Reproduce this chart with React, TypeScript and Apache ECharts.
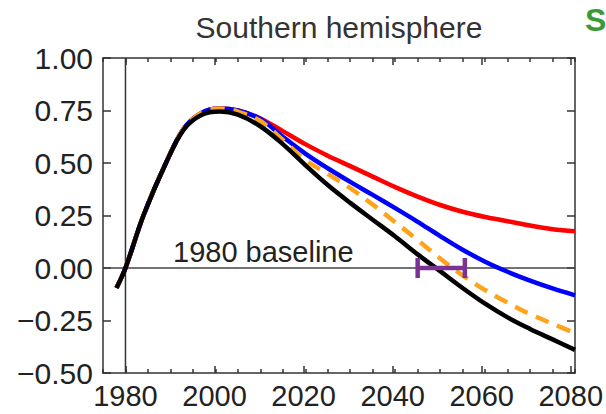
import React, { useEffect, useRef } from "react";
import * as echarts from "echarts";

// ---- data ----
const years = [1978, 1980, 1984, 1989, 1993, 1997, 2001, 2005, 2010, 2015, 2020, 2025, 2030, 2035, 2040, 2045, 2050, 2055, 2060, 2065, 2070, 2075, 2080];
const redValues = [-0.095, 0.0, 0.25, 0.5, 0.665, 0.74, 0.76, 0.75, 0.712, 0.652, 0.59, 0.535, 0.485, 0.435, 0.385, 0.34, 0.3, 0.268, 0.243, 0.223, 0.202, 0.185, 0.175];
const blueValues = [-0.095, 0.0, 0.25, 0.5, 0.665, 0.74, 0.76, 0.75, 0.71, 0.625, 0.545, 0.475, 0.41, 0.348, 0.285, 0.22, 0.152, 0.087, 0.03, -0.018, -0.06, -0.097, -0.13];
const orangeValues = [-0.095, 0.0, 0.25, 0.5, 0.665, 0.74, 0.76, 0.745, 0.7, 0.61, 0.515, 0.448, 0.38, 0.302, 0.218, 0.133, 0.045, -0.035, -0.105, -0.165, -0.22, -0.265, -0.31];
const blackValues = [-0.095, 0.0, 0.25, 0.5, 0.66, 0.73, 0.745, 0.73, 0.675, 0.59, 0.49, 0.395, 0.31, 0.23, 0.15, 0.065, -0.015, -0.095, -0.17, -0.235, -0.29, -0.34, -0.39];

const baselineYear = 1980;
const errorBar = { low: 2045, high: 2055.5, value: 0 };

const X_MIN = 1975;
const X_MAX = 2080;
const X_MINOR_STEP = 5;
const X_MAJOR_START = 1980;
const X_MAJOR_STEP = 20;
const Y_MIN = -0.5;
const Y_MAX = 1.0;
const Y_STEP = 0.25;

const FONT = "'Liberation Sans', Arial, Helvetica, sans-serif";
const AXIS_COLOR = "#333";

// layout
const GRID = { left: 103, right: 31, top: 58, bottom: 41 };
const PLOT_W = 606 - GRID.left - GRID.right;
const MAJOR_LEFT = GRID.left + ((X_MAJOR_START - X_MIN) / (X_MAX - X_MIN)) * PLOT_W;

function pairs(xs: number[], ys: number[]) {
  return xs.map((x, i) => [x, ys[i]]);
}

function minorX(position: "bottom" | "top") {
  return {
    type: "value",
    gridIndex: 0,
    position,
    min: X_MIN,
    max: X_MAX,
    interval: X_MINOR_STEP,
    axisLine: { show: true, onZero: false, lineStyle: { color: AXIS_COLOR, width: 1.5 } },
    axisTick: { show: true, inside: true, length: 4, lineStyle: { color: AXIS_COLOR, width: 1.5 } },
    axisLabel: { show: false },
    splitLine: { show: false },
  };
}

function majorX(position: "bottom" | "top", labels: boolean) {
  return {
    type: "value",
    gridIndex: 1,
    position,
    min: X_MAJOR_START,
    max: X_MAX,
    interval: X_MAJOR_STEP,
    axisLine: { show: false, onZero: false },
    axisTick: { show: true, inside: true, length: 7, lineStyle: { color: AXIS_COLOR, width: 1.5 } },
    axisLabel: labels
      ? { show: true, fontSize: 29, color: "#222", fontFamily: FONT, margin: 8, formatter: (v: number) => String(v), showMinLabel: true, showMaxLabel: true }
      : { show: false },
    splitLine: { show: false },
  };
}

export default function App() {
  const ref = useRef<HTMLDivElement>(null);

  useEffect(() => {
    if (!ref.current) return;
    const chart = echarts.init(ref.current, null, { renderer: "svg" });

    const lineSeries = (name: string, values: number[], color: string, dashed = false) => ({
      name,
      type: "line",
      xAxisIndex: 0,
      yAxisIndex: 0,
      data: pairs(years, values),
      smooth: 0.35,
      showSymbol: false,
      symbol: "none",
      lineStyle: { color, width: 4.5, type: dashed ? [14, 9] : "solid", cap: "butt" },
      z: 3,
    });

    const yCommon = {
      type: "value",
      min: Y_MIN,
      max: Y_MAX,
      interval: Y_STEP,
      axisLine: { show: true, onZero: false, lineStyle: { color: AXIS_COLOR, width: 1.5 } },
      axisTick: { show: true, inside: true, length: 8, lineStyle: { color: AXIS_COLOR, width: 1.5 } },
      splitLine: { show: false },
    };

    const option = {
      animation: false,
      grid: [
        { ...GRID, containLabel: false },
        { left: MAJOR_LEFT, right: GRID.right, top: GRID.top, bottom: GRID.bottom, containLabel: false },
      ],
      xAxis: [minorX("bottom"), minorX("top"), majorX("bottom", true), majorX("top", false)],
      yAxis: [
        {
          ...yCommon,
          gridIndex: 0,
          position: "left",
          axisLabel: {
            fontSize: 30,
            color: "#222",
            fontFamily: FONT,
            margin: 10,
            formatter: (v: number) => (v < 0 ? "\u2212" + Math.abs(v).toFixed(2) : v.toFixed(2)),
          },
        },
        { ...yCommon, gridIndex: 0, position: "right", axisLabel: { show: false } },
        { type: "value", gridIndex: 1, min: Y_MIN, max: Y_MAX, show: false },
      ],
      series: [
        {
          type: "line",
          data: [[X_MIN, 0], [X_MAX, 0]],
          showSymbol: false,
          symbol: "none",
          lineStyle: { color: "#444", width: 1.5 },
          z: 1,
          silent: true,
        },
        {
          type: "line",
          data: [[baselineYear, Y_MIN], [baselineYear, Y_MAX]],
          showSymbol: false,
          symbol: "none",
          lineStyle: { color: "#333", width: 1.5 },
          z: 1,
          silent: true,
        },
        lineSeries("red", redValues, "#ff0000"),
        lineSeries("blue", blueValues, "#0000ff"),
        lineSeries("orange", orangeValues, "#ffa31a", true),
        lineSeries("black", blackValues, "#000000"),
        {
          type: "custom",
          xAxisIndex: 0,
          yAxisIndex: 0,
          z: 5,
          data: [[errorBar.low, errorBar.high, errorBar.value]],
          renderItem: (params: any, api: any) => {
            const a = api.coord([api.value(0), api.value(2)]);
            const b = api.coord([api.value(1), api.value(2)]);
            const h = 10;
            const style = { stroke: "#7b3294", lineWidth: 4.5 };
            return {
              type: "group",
              children: [
                { type: "line", shape: { x1: a[0], y1: a[1], x2: b[0], y2: b[1] }, style },
                { type: "line", shape: { x1: a[0], y1: a[1] - h, x2: a[0], y2: a[1] + h }, style },
                { type: "line", shape: { x1: b[0], y1: b[1] - h, x2: b[0], y2: b[1] + h }, style },
              ],
            };
          },
        },
      ],
      graphic: [
        {
          type: "text",
          style: { text: "Southern hemisphere", x: 339, y: 27, textAlign: "center", textVerticalAlign: "middle", font: `30px ${FONT}`, fill: "#333" },
        },
        {
          type: "text",
          style: { text: "1980 baseline", x: 173, y: 252, textAlign: "left", textVerticalAlign: "middle", font: `29px ${FONT}`, fill: "#222" },
        },
        {
          type: "text",
          style: { text: "S", x: 585, y: 20, textAlign: "left", textVerticalAlign: "middle", font: `bold 32px ${FONT}`, fill: "#3a9a3a" },
        },
      ],
    };

    chart.setOption(option as any);
    return () => chart.dispose();
  }, []);

  return <div ref={ref} style={{ position: "fixed", left: 0, top: 0, width: 606, height: 414, background: "#fff" }} />;
}
